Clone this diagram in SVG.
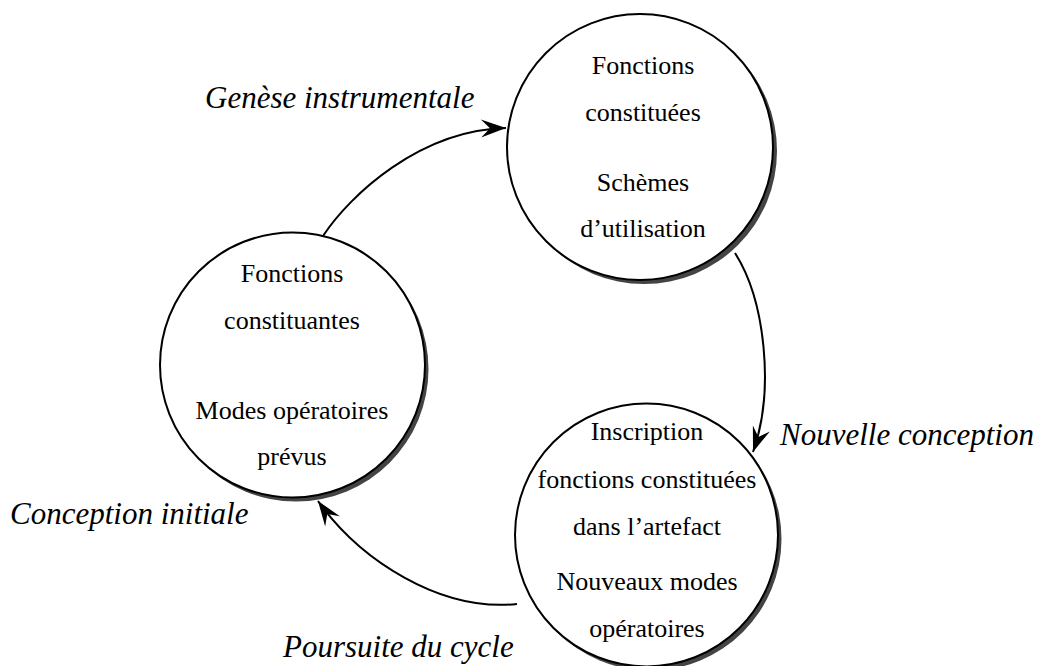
<svg xmlns="http://www.w3.org/2000/svg" width="1041" height="666" viewBox="0 0 1041 666">
<style>
.shadow{fill:#444;stroke:none}
.node{fill:#fff;stroke:#000;stroke-width:2}
.t{font-family:'Liberation Serif','Times New Roman',serif;font-size:26px;text-anchor:middle;fill:#000}
.lab{font-family:'Liberation Serif','Times New Roman',serif;font-size:31px;font-style:italic;fill:#000}
.edge{fill:none;stroke:#000;stroke-width:2}
</style>
<defs>
<marker id="arr" markerUnits="userSpaceOnUse" markerWidth="30" markerHeight="24" viewBox="-26 -12 30 24" refX="0" refY="0" orient="auto">
<path d="M0,0 L-25,-9 L-16,0 L-25,9 Z" fill="#000"/>
</marker>
</defs>
<rect width="1041" height="666" fill="#fff"/>
<g id="connectors">
<path class="edge" d="M323,236 C350,195 420,130 506,128" marker-end="url(#arr)"/>
<path class="edge" d="M735,253 C765,300 775,390 753,452" marker-end="url(#arr)"/>
<path class="edge" d="M517,604 C440,612 360,560 318,501" marker-end="url(#arr)"/>
</g>
<g id="node-top">
<circle class="shadow" cx="644" cy="151" r="133"/>
<circle class="node" cx="640" cy="147" r="133"/>
<text class="t" x="643" y="74">Fonctions</text>
<text class="t" x="643" y="121">constituées</text>
<text class="t" x="643" y="191">Schèmes</text>
<text class="t" x="643" y="237">d’utilisation</text>
</g>
<g id="node-left">
<circle class="shadow" cx="296" cy="369" r="132.5"/>
<circle class="node" cx="292.5" cy="365" r="132.5"/>
<text class="t" x="292" y="282">Fonctions</text>
<text class="t" x="292" y="329">constituantes</text>
<text class="t" x="292" y="419">Modes opératoires</text>
<text class="t" x="292" y="465">prévus</text>
</g>
<g id="node-bottom">
<circle class="shadow" cx="650" cy="539" r="131.5"/>
<circle class="node" cx="646.5" cy="535" r="131.5"/>
<text class="t" x="647" y="440">Inscription</text>
<text class="t" x="647" y="488">fonctions constituées</text>
<text class="t" x="647" y="535">dans l’artefact</text>
<text class="t" x="647" y="590">Nouveaux modes</text>
<text class="t" x="647" y="637">opératoires</text>
</g>
<g id="labels">
<text class="lab" x="205" y="108">Genèse instrumentale</text>
<text class="lab" x="780" y="445">Nouvelle conception</text>
<text class="lab" x="10" y="524">Conception initiale</text>
<text class="lab" x="283" y="657">Poursuite du cycle</text>
</g>
</svg>
